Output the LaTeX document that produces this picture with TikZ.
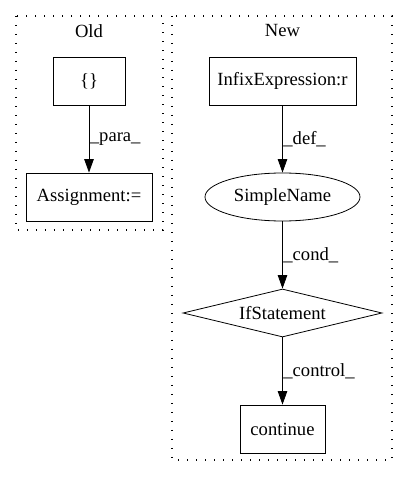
\documentclass[tikz,border=0pt]{standalone}
\usepackage{fontspec}
\setmainfont{Liberation Serif}
\usetikzlibrary{arrows.meta,shapes.geometric}
\begin{document}
\begin{tikzpicture}[x=1pt,y=1pt,
	font=\fontsize{18.6}{21}\selectfont,
	cluster/.style={draw,line width=1.4pt,dash pattern=on 1.4pt off 7.6pt},
	box/.style={draw,line width=0.8pt,rectangle,minimum height=48pt,inner sep=0pt},
	flow/.style={line width=0.8pt,-{Triangle[length=13.5pt,width=9.5pt]}},
	elabel/.style={anchor=west,inner sep=0.5pt}]
	% page size
	\useasboundingbox (0,0) rectangle (408,480);
	% the two clusters
	\draw[cluster] (16,464) rectangle (163,250);
	\draw[cluster] (172,464) rectangle (392,20);
	\node (oldtitle) at (89,449) {Old};
	\node (newtitle) at (282.5,449) {New};
	% - old side
	\node[box,minimum width=72pt] (curly) at (89,399) {\{\}};
	\node[box,minimum width=126pt] (assign) at (89,283) {Assignment:=};
	\draw[flow] (curly) -- node[elabel] {\_para\_} (assign);
	% - new side
	\node[box,minimum width=147pt] (infix) at (282.5,399) {InfixExpression:r};
	\node[draw,line width=0.8pt,ellipse,minimum width=155pt,minimum height=48pt,inner sep=0pt] (simple) at (282.5,283) {SimpleName};
	\node[draw,line width=0.8pt,diamond,aspect=4,minimum width=199pt,minimum height=48pt,inner sep=0pt] (ifst) at (282.5,167) {IfStatement};
	\node[box,minimum width=85pt] (cont) at (282.5,51) {continue};
	\draw[flow] (infix) -- node[elabel] {\_def\_} (simple);
	\draw[flow] (simple) -- node[elabel] {\_cond\_} (ifst);
	\draw[flow] (ifst) -- node[elabel] {\_control\_} (cont);
\end{tikzpicture}
\end{document}
